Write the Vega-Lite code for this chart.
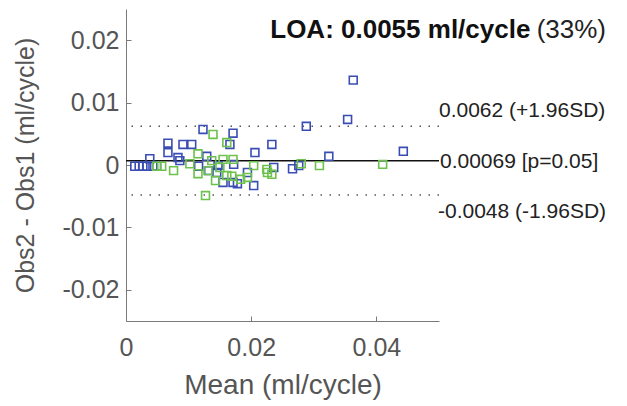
{
  "$schema": "https://vega.github.io/schema/vega-lite/v6.json",
  "autosize": "none",
  "width": 313,
  "height": 312,
  "padding": {"left": 126, "top": 9, "right": 188, "bottom": 85},
  "background": "white",
  "config": {
    "view": {"stroke": null},
    "font": "Liberation Sans",
    "axis": {
      "domainColor": "#7a7a7a",
      "tickColor": "#7a7a7a",
      "domainWidth": 1,
      "tickWidth": 1,
      "tickSize": -5,
      "grid": false,
      "labelFlush": false,
      "labelColor": "#555555",
      "labelFont": "Liberation Sans",
      "labelFontSize": 25,
      "titleColor": "#555555",
      "titleFont": "Liberation Sans",
      "titleFontWeight": "normal"
    }
  },
  "datasets": {
    "pts": [
      {"mean": 0.0014, "diff": -0.0002, "group": "A"},
      {"mean": 0.0021, "diff": -0.0002, "group": "A"},
      {"mean": 0.0027, "diff": -0.0002, "group": "A"},
      {"mean": 0.0033, "diff": -0.0002, "group": "A"},
      {"mean": 0.0038, "diff": 0.0010, "group": "A"},
      {"mean": 0.0043, "diff": -0.0002, "group": "A"},
      {"mean": 0.0049, "diff": -0.0002, "group": "A"},
      {"mean": 0.0067, "diff": 0.0035, "group": "A"},
      {"mean": 0.0067, "diff": 0.0020, "group": "A"},
      {"mean": 0.0083, "diff": 0.0012, "group": "A"},
      {"mean": 0.0086, "diff": 0.0007, "group": "A"},
      {"mean": 0.0091, "diff": 0.0033, "group": "A"},
      {"mean": 0.0105, "diff": 0.0033, "group": "A"},
      {"mean": 0.0123, "diff": 0.0057, "group": "A"},
      {"mean": 0.0129, "diff": 0.0014, "group": "A"},
      {"mean": 0.0116, "diff": -0.0002, "group": "A"},
      {"mean": 0.0132, "diff": -0.0009, "group": "A"},
      {"mean": 0.0145, "diff": -0.0012, "group": "A"},
      {"mean": 0.0147, "diff": -0.0001, "group": "A"},
      {"mean": 0.0155, "diff": -0.0028, "group": "A"},
      {"mean": 0.0171, "diff": -0.0028, "group": "A"},
      {"mean": 0.0166, "diff": 0.0033, "group": "A"},
      {"mean": 0.0171, "diff": 0.0051, "group": "A"},
      {"mean": 0.0172, "diff": 0.0001, "group": "A"},
      {"mean": 0.0178, "diff": -0.0030, "group": "A"},
      {"mean": 0.0194, "diff": -0.0012, "group": "A"},
      {"mean": 0.0204, "diff": -0.0033, "group": "A"},
      {"mean": 0.0206, "diff": 0.0020, "group": "A"},
      {"mean": 0.0233, "diff": 0.0033, "group": "A"},
      {"mean": 0.0236, "diff": -0.0004, "group": "A"},
      {"mean": 0.0266, "diff": -0.0006, "group": "A"},
      {"mean": 0.0276, "diff": -0.0001, "group": "A"},
      {"mean": 0.0288, "diff": 0.0062, "group": "A"},
      {"mean": 0.0324, "diff": 0.0014, "group": "A"},
      {"mean": 0.0354, "diff": 0.0073, "group": "A"},
      {"mean": 0.0363, "diff": 0.0136, "group": "A"},
      {"mean": 0.0443, "diff": 0.0022, "group": "A"},
      {"mean": 0.0049, "diff": -0.0002, "group": "B"},
      {"mean": 0.0057, "diff": -0.0002, "group": "B"},
      {"mean": 0.0076, "diff": -0.0009, "group": "B"},
      {"mean": 0.0102, "diff": 0.0002, "group": "B"},
      {"mean": 0.0115, "diff": 0.0018, "group": "B"},
      {"mean": 0.0115, "diff": -0.0014, "group": "B"},
      {"mean": 0.0127, "diff": -0.0049, "group": "B"},
      {"mean": 0.0131, "diff": -0.0009, "group": "B"},
      {"mean": 0.0137, "diff": 0.0007, "group": "B"},
      {"mean": 0.0139, "diff": 0.0049, "group": "B"},
      {"mean": 0.0143, "diff": -0.0025, "group": "B"},
      {"mean": 0.0150, "diff": -0.0004, "group": "B"},
      {"mean": 0.0155, "diff": 0.0009, "group": "B"},
      {"mean": 0.0161, "diff": 0.0036, "group": "B"},
      {"mean": 0.0161, "diff": -0.0017, "group": "B"},
      {"mean": 0.0171, "diff": 0.0009, "group": "B"},
      {"mean": 0.0169, "diff": -0.0018, "group": "B"},
      {"mean": 0.0183, "diff": -0.0023, "group": "B"},
      {"mean": 0.0194, "diff": -0.0020, "group": "B"},
      {"mean": 0.0204, "diff": -0.0001, "group": "B"},
      {"mean": 0.0225, "diff": -0.0007, "group": "B"},
      {"mean": 0.0226, "diff": -0.0012, "group": "B"},
      {"mean": 0.0233, "diff": -0.0015, "group": "B"},
      {"mean": 0.0280, "diff": 0.0002, "group": "B"},
      {"mean": 0.0309, "diff": -0.0001, "group": "B"},
      {"mean": 0.0410, "diff": 0.0001, "group": "B"}
    ],
    "lines": [
      {"value": 0.0062, "label": "0.0062 (+1.96SD)", "kind": "upper"},
      {"value": 0.00069, "label": "0.00069 [p=0.05]", "kind": "mean"},
      {"value": -0.0048, "label": "-0.0048 (-1.96SD)", "kind": "lower"}
    ],
    "head": [
      {"bold": "LOA: 0.0055 ml/cycle", "pct": "(33%)"}
    ]
  },
  "layer": [
    {
      "data": {"name": "lines"},
      "transform": [{"filter": "datum.kind != 'mean'"}],
      "mark": {"type": "rule", "color": "#555555", "strokeWidth": 1.5, "strokeDash": [1.5, 7.5]},
      "encoding": {"y": {"field": "value", "type": "quantitative", "scale": {"domain": [-0.025, 0.025], "nice": false}}}
    },
    {
      "data": {"name": "lines"},
      "transform": [{"filter": "datum.kind == 'mean'"}],
      "mark": {"type": "rule", "color": "#111111", "strokeWidth": 1.5},
      "encoding": {"y": {"field": "value", "type": "quantitative"}}
    },
    {
      "data": {"name": "pts"},
      "mark": {"type": "point", "shape": "square", "filled": false, "size": 62, "strokeWidth": 1.6, "opacity": 1},
      "encoding": {
        "x": {
          "field": "mean", "type": "quantitative",
          "scale": {"domain": [0, 0.05], "nice": false},
          "axis": {
            "title": "Mean (ml/cycle)",
            "titleFontSize": 28,
            "values": [0, 0.02, 0.04],
            "labelExpr": "datum.value == 0 ? '0' : format(datum.value, '.2f')",
            "labelPadding": 19,
            "titlePadding": 11
          }
        },
        "y": {
          "field": "diff", "type": "quantitative",
          "scale": {"domain": [-0.025, 0.025], "nice": false},
          "axis": {
            "title": "Obs2 - Obs1 (ml/cycle)",
            "titleFontSize": 25,
            "values": [-0.02, -0.01, 0, 0.01, 0.02],
            "labelExpr": "datum.value == 0 ? '0' : (datum.value < 0 ? '-' + format(-datum.value, '.2f') : format(datum.value, '.2f'))",
            "labelPadding": 12,
            "titlePadding": 24
          }
        },
        "color": {
          "field": "group", "type": "nominal",
          "scale": {"domain": ["A", "B"], "range": ["#3a4db3", "#6cc24a"]},
          "legend": null
        }
      }
    },
    {
      "data": {"name": "lines"},
      "transform": [{"filter": "datum.kind == 'upper'"}],
      "mark": {"type": "text", "align": "left", "baseline": "middle", "dx": 0, "dy": -15, "fontSize": 21, "color": "#222222"},
      "encoding": {"x": {"datum": 0.05, "type": "quantitative"}, "y": {"field": "value", "type": "quantitative"}, "text": {"field": "label"}}
    },
    {
      "data": {"name": "lines"},
      "transform": [{"filter": "datum.kind == 'mean'"}],
      "mark": {"type": "text", "align": "left", "baseline": "middle", "dx": 1, "dy": 1, "fontSize": 21, "color": "#222222"},
      "encoding": {"x": {"datum": 0.05, "type": "quantitative"}, "y": {"field": "value", "type": "quantitative"}, "text": {"field": "label"}}
    },
    {
      "data": {"name": "lines"},
      "transform": [{"filter": "datum.kind == 'lower'"}],
      "mark": {"type": "text", "align": "left", "baseline": "middle", "dx": -1, "dy": 17, "fontSize": 21, "color": "#222222"},
      "encoding": {"x": {"datum": 0.05, "type": "quantitative"}, "y": {"field": "value", "type": "quantitative"}, "text": {"field": "label"}}
    },
    {
      "data": {"name": "head"},
      "mark": {"type": "text", "align": "right", "baseline": "middle", "fontSize": 26, "fontWeight": "bold", "color": "#111111"},
      "encoding": {"x": {"datum": 0.0646, "type": "quantitative"}, "y": {"datum": 0.0216, "type": "quantitative"}, "text": {"field": "bold"}}
    },
    {
      "data": {"name": "head"},
      "mark": {"type": "text", "align": "left", "baseline": "middle", "fontSize": 26, "color": "#222222"},
      "encoding": {"x": {"datum": 0.0656, "type": "quantitative"}, "y": {"datum": 0.0216, "type": "quantitative"}, "text": {"field": "pct"}}
    }
  ]
}
